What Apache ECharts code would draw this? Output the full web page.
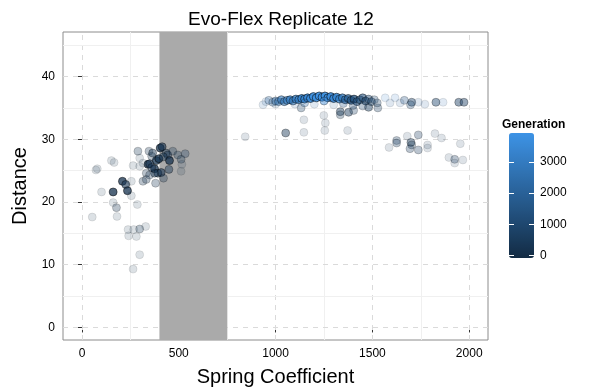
<!DOCTYPE html>
<html>
<head>
    <meta charset="utf-8" />
    <title>Evo-Flex Replicate 12</title>
    <script src="https://cdn.jsdelivr.net/npm/echarts@6/dist/echarts.min.js"></script>
    <style>
        html, body { margin: 0; padding: 0; background: #fff; }
        #main { width: 590px; height: 392px; }
    </style>
</head>
<body>
<div id="main"></div>
<script type="text/javascript">
    // points: spring coefficient, distance, generation, how many individuals overlap at that spot
    var spring = [
        289, 346, 404, 414, 152, 166, 72, 79, 264, 209, 226, 235, 161, 101, 255, 161, 178, 286, 181, 53,
        238, 267, 298, 329, 241, 281, 298, 264, 435, 443, 469, 495, 533, 512, 516, 452, 384, 397, 341, 349,
        375, 392, 409, 375, 449, 332, 349, 315, 332, 380, 421, 298, 315, 255, 512, 298, 360, 365, 420, 360,
        1132, 1334, 1334, 1377, 1403, 1480, 1528, 1249, 1257, 1146, 1052, 1146, 1254, 1372, 843,
        1625, 1625, 1586, 1680, 1737, 1699, 1703, 1694, 1737, 1785, 1785, 1823, 1857, 1954, 1895, 1925, 1967, 1925,
        1566, 1617, 1665, 1703, 1737, 1771, 1828, 1865, 1946, 1973, 1591, 1643, 1697,
        935, 950, 965, 985, 1000, 1015, 1030, 1045, 1060, 1075, 1090, 1105, 1120, 1135, 1150, 1165, 1180, 1195,
        1210, 1225, 1240, 1255, 1270, 1285, 1300, 1315, 1330, 1345, 1360, 1375, 1390, 1405, 1420, 1435, 1450,
        1465, 1480, 1495, 1510, 1525, 1100, 1200, 1300, 1400, 1450, 1350, 1000, 1150, 1250
    ];
    var distance = [
        28.1, 28.1, 28.6, 28.8, 26.6, 26.3, 25.1, 25.3, 25.8, 23.3, 22.8, 21.8, 21.6, 21.6, 21.0, 19.9, 19.1, 19.6, 17.7, 17.6,
        15.6, 15.6, 15.7, 16.1, 14.6, 14.5, 11.6, 9.3, 27.8, 27.5, 28.1, 27.5, 27.7, 26.8, 26.0, 26.6, 26.6, 26.9, 26.0, 26.1,
        25.3, 24.6, 24.7, 24.6, 25.2, 24.6, 24.3, 23.3, 23.6, 23.0, 23.8, 25.7, 26.2, 23.3, 24.9, 27.0, 27.3, 27.8, 27.2, 25.5,
        35.0, 34.4, 33.9, 34.3, 34.6, 35.1, 35.0, 33.8, 32.6, 33.1, 31.0, 31.1, 31.4, 31.4, 30.4,
        29.8, 29.4, 28.7, 30.5, 30.7, 29.5, 29.1, 28.5, 28.3, 29.1, 28.6, 30.9, 30.2, 29.3, 27.1, 26.8, 26.7, 26.2,
        36.6, 36.6, 36.2, 35.9, 35.9, 35.6, 35.9, 35.9, 35.9, 35.9, 35.8, 35.8, 35.5,
        35.5, 36.0, 36.2, 35.9, 36.1, 36.0, 36.3, 36.0, 36.2, 36.3, 36.1, 36.4, 36.3, 36.5, 36.4, 36.6, 36.5, 36.8,
        36.6, 36.9, 36.7, 36.9, 36.6, 36.8, 36.5, 36.7, 36.4, 36.6, 36.3, 36.5, 36.2, 36.4, 36.0, 36.3, 36.6,
        36.1, 36.4, 36.0, 36.3, 35.8, 35.6, 35.6, 35.5, 35.4, 35.3, 35.7, 35.6, 35.8, 36.1
    ];
    var generation = [
        400, 300, 300, 250, 300, 300, 300, 300, 300, 200, 250, 200, 150, 300, 300, 300, 300, 300, 300, 300,
        300, 300, 400, 300, 300, 300, 300, 300, 300, 350, 500, 500, 600, 500, 500, 200, 250, 250, 200, 250,
        200, 200, 250, 300, 400, 300, 300, 300, 300, 300, 300, 300, 300, 300, 300, 300, 300, 300, 300, 250,
        800, 500, 500, 500, 700, 600, 700, 500, 500, 500, 400, 500, 500, 500, 500,
        700, 700, 500, 500, 600, 500, 500, 600, 600, 500, 500, 500, 500, 500, 500, 600, 500, 500,
        3200, 3000, 1500, 1000, 2000, 2000, 1000, 2500, 700, 700, 2000, 2000, 1200,
        2200, 2500, 2000, 1800, 2400, 2700, 2900, 2600, 3000, 3100, 2800, 3200, 3300, 3400, 3500, 3600, 3700, 3800,
        3850, 3900, 3850, 3800, 3750, 3700, 3600, 3500, 3300, 3000, 2500, 2000, 1600, 1400, 1500, 1200, 1300,
        1000, 1100, 900, 1200, 800, 2000, 2200, 1800, 1000, 900, 1500, 1500, 2500, 3500
    ];
    var overlap = [
        2, 2, 5, 4, 1, 1, 1, 1, 1, 5, 4, 5, 5, 1, 1, 1, 2, 1, 1, 1,
        1, 1, 2, 1, 1, 1, 1, 1, 3, 3, 2, 2, 2, 2, 1, 5, 5, 5, 5, 4,
        5, 4, 4, 3, 3, 2, 2, 2, 2, 2, 2, 1, 1, 1, 1, 1, 2, 3, 3, 3,
        2, 3, 2, 3, 2, 3, 2, 1, 1, 1, 3, 1, 1, 1, 1,
        2, 2, 1, 1, 2, 3, 2, 2, 2, 1, 1, 1, 1, 1, 1, 2, 1, 1,
        1, 1, 2, 3, 1, 1, 3, 1, 3, 3, 1, 1, 2,
        1, 1, 2, 2, 3, 3, 4, 4, 4, 5, 4, 5, 5, 6, 6, 6, 6, 6,
        6, 6, 6, 6, 6, 6, 6, 6, 5, 5, 5, 5, 5, 5, 4, 4, 4,
        4, 3, 3, 2, 2, 1, 1, 1, 2, 2, 2, 1, 2, 3
    ];

    var shadedBand = [400, 750];
    var xMajor = [0, 500, 1000, 1500, 2000];
    var xMinor = [250, 750, 1250, 1750];
    var yMajor = [0, 10, 20, 30, 40];
    var yMinor = [5, 15, 25, 35, 45];
    var genTicks = [0, 1000, 2000, 3000];

    var xRange = [-98, 2097];
    var yRange = [-2.0, 47.1];

    var points = spring.map(function (x, i) {
        return [x, distance[i], generation[i], overlap[i]];
    });

    var font = 'Liberation Sans';
    var plain = function (v) { return String(v); };
    var gridLines = [];
    xMajor.forEach(function (v) { gridLines.push({ xAxis: v, lineStyle: { color: '#dadada', type: [5, 5], width: 1 } }); });
    xMinor.forEach(function (v) { gridLines.push({ xAxis: v, lineStyle: { color: '#f0f0f0', type: 'solid', width: 1 } }); });
    yMajor.forEach(function (v) { gridLines.push({ yAxis: v, lineStyle: { color: '#dadada', type: [5, 5], width: 1 } }); });
    yMinor.forEach(function (v) { gridLines.push({ yAxis: v, lineStyle: { color: '#f0f0f0', type: 'solid', width: 1 } }); });

    var chart = echarts.init(document.getElementById('main'));
    var option = {
        animation: false,
        textStyle: { fontFamily: font },
        title: [
            {
                text: 'Evo-Flex Replicate 12',
                left: 276, top: 5, textAlign: 'center',
                textStyle: { fontFamily: font, fontSize: 19, fontWeight: 'normal', color: '#000' }
            },
            {
                text: 'Generation',
                left: 497, top: 114,
                textStyle: { fontFamily: font, fontSize: 12, fontWeight: 'bold', color: '#000' }
            }
        ],
        grid: [
            { left: 63, top: 32, right: 102, bottom: 50, show: true, borderColor: '#8c8c8c', borderWidth: 1, backgroundColor: '#fff' },
            { left: 509, top: 133, width: 25, height: 125, show: false }
        ],
        xAxis: [
            {
                gridIndex: 0, type: 'value', min: xRange[0], max: xRange[1],
                name: 'Spring Coefficient', nameLocation: 'middle', nameGap: 27,
                nameTextStyle: { fontFamily: font, fontSize: 20, color: '#000' },
                axisLine: { show: false },
                axisTick: { show: true, length: 5, customValues: xMajor, lineStyle: { color: '#333' } },
                axisLabel: { customValues: xMajor, formatter: plain, margin: 8, fontSize: 12, color: '#000', fontFamily: font },
                splitLine: { show: false }
            },
            { gridIndex: 1, type: 'value', show: false, min: 0, max: 1 }
        ],
        yAxis: [
            {
                gridIndex: 0, type: 'value', min: yRange[0], max: yRange[1],
                name: 'Distance', nameLocation: 'middle', nameGap: 25, nameRotate: 90,
                nameTextStyle: { fontFamily: font, fontSize: 20, color: '#000' },
                axisLine: { show: false },
                axisTick: { show: true, length: 5, customValues: yMajor, lineStyle: { color: '#333' } },
                axisLabel: { customValues: yMajor, formatter: plain, margin: 8, fontSize: 12, color: '#000', fontFamily: font },
                splitLine: { show: false }
            },
            {
                gridIndex: 1, type: 'value', min: -85, max: 3930, position: 'left', z: 10,
                axisLine: { show: false }, splitLine: { show: false },
                axisTick: { show: true, inside: true, length: 5, customValues: genTicks, lineStyle: { color: '#fff', width: 1 } },
                axisLabel: { show: false }
            },
            {
                gridIndex: 1, type: 'value', min: -85, max: 3930, position: 'right', z: 10,
                axisLine: { show: false }, splitLine: { show: false },
                axisTick: { show: true, inside: true, length: 5, customValues: genTicks, lineStyle: { color: '#fff', width: 1 } },
                axisLabel: { show: true, customValues: genTicks, formatter: plain, margin: 6, fontSize: 12, color: '#000', fontFamily: font }
            }
        ],
        visualMap: [
            {
                type: 'continuous', seriesIndex: 2, dimension: 2,
                min: -85, max: 3930, show: true, calculable: false, z: 4,
                left: 509, top: 133, itemWidth: 25, itemHeight: 125, padding: 0,
                text: null, showLabel: false,
                inRange: { color: ['#132B43', '#3D93E6'] }
            },
            {
                type: 'continuous', seriesIndex: 2, dimension: 3,
                min: 1, max: 6, show: false,
                inRange: { opacity: [0.15, 0.9] }
            }
        ],
        series: [
            {
                type: 'scatter', xAxisIndex: 0, yAxisIndex: 0, data: [], z: 1, silent: true,
                markLine: { z: 1, silent: true, symbol: 'none', label: { show: false }, data: gridLines, animation: false }
            },
            {
                // shaded spring-coefficient band, full panel height
                type: 'custom', xAxisIndex: 0, yAxisIndex: 0, z: 2, silent: true,
                data: [[shadedBand[0], shadedBand[1]]],
                renderItem: function (params, api) {
                    var p0 = api.coord([api.value(0), yRange[1]]);
                    var p1 = api.coord([api.value(1), yRange[0]]);
                    return {
                        type: 'rect',
                        shape: { x: p0[0], y: p0[1], width: p1[0] - p0[0], height: p1[1] - p0[1] },
                        style: { fill: '#aaaaaa' }
                    };
                }
            },
            {
                type: 'scatter', xAxisIndex: 0, yAxisIndex: 0, z: 3,
                symbolSize: 8,
                itemStyle: { borderColor: 'rgba(0,0,0,0.7)', borderWidth: 0.9 },
                data: points
            },
            { type: 'scatter', xAxisIndex: 1, yAxisIndex: 1, data: [] }
        ]
    };
    chart.setOption(option);
</script>
</body>
</html>
